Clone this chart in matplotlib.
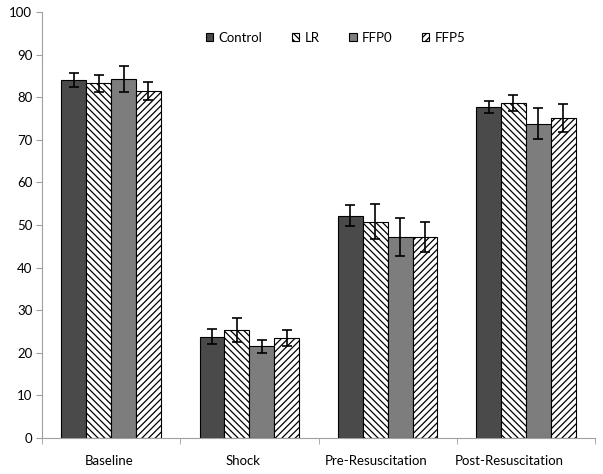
import matplotlib.pyplot as plt
import numpy as np

plt.rcParams["font.family"] = ["Lato", "DejaVu Sans"]
plt.rcParams["hatch.linewidth"] = 0.9

groups = ["Baseline", "Shock", "Pre-Resuscitation", "Post-Resuscitation"]
series = ["Control", "LR", "FFP0", "FFP5"]
means = {
    "Control": [84.0, 23.8, 52.2, 77.7],
    "LR": [83.3, 25.3, 50.8, 78.6],
    "FFP0": [84.3, 21.5, 47.2, 73.8],
    "FFP5": [81.5, 23.5, 47.2, 75.2],
}
errs = {
    "Control": [1.6, 1.8, 2.5, 1.3],
    "LR": [2.0, 2.8, 4.1, 1.9],
    "FFP0": [3.0, 1.5, 4.4, 3.7],
    "FFP5": [2.1, 1.8, 3.5, 3.3],
}
# label positions drift left of the group centres in the original
label_pos = [-0.016, 0.953, 1.915, 2.877]
colors = {"Control": "#4a4a4a", "LR": "white", "FFP0": "#7d7d7d", "FFP5": "white"}
hatches = {"Control": None, "LR": "\\\\\\\\\\", "FFP0": None, "FFP5": "/////"}

fig = plt.figure(figsize=(6.03, 4.74), dpi=100)
ax = fig.add_axes([42/603, 1-438/474, 553/603, 426/474])

x = np.arange(len(groups))
w = 0.18
for i, s in enumerate(series):
    ax.bar(x + (i - 1.5)*w, means[s], w, color=colors[s], edgecolor="black",
           linewidth=0.8, hatch=hatches[s], label=s,
           yerr=errs[s], error_kw=dict(ecolor="black", elinewidth=1.2, capsize=3.5, capthick=1.2))

ax.set_xlim(-0.5, 3.5)
ax.set_ylim(0, 100)
ax.set_yticks(np.arange(0, 101, 10))
ax.set_xticks(label_pos)
ax.set_xticklabels(groups)
ax.set_xticks(np.arange(-0.5, 3.6, 1), minor=True)
ax.tick_params(axis="x", which="major", length=0, pad=12, labelsize=9.5)
ax.tick_params(axis="x", which="minor", length=4, color="#a0a0a0")
ax.tick_params(axis="y", length=4, color="#a0a0a0", labelsize=9.5, pad=3)
for sp in ["top", "right"]:
    ax.spines[sp].set_visible(False)
ax.spines["left"].set_color("#a0a0a0")
ax.spines["bottom"].set_color("#a0a0a0")

ax.legend(loc="center", bbox_to_anchor=(0.531, 0.939), ncol=4, frameon=False,
          fontsize=9.5, handlelength=0.55, handleheight=0.55, handletextpad=0.38,
          columnspacing=2.27)

fig.savefig("out.png", dpi=100)
